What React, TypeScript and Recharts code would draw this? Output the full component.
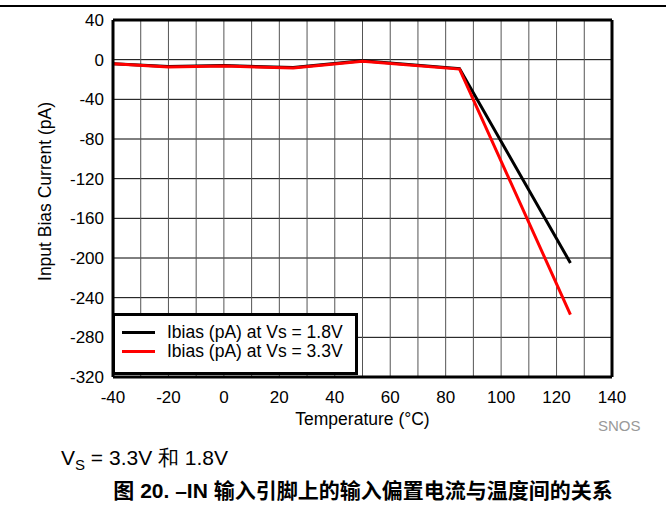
import {
  LineChart,
  Line,
  XAxis,
  YAxis,
  CartesianGrid,
  ReferenceLine,
  Legend,
  Label
} from "recharts";

const temps = [-40, -20, 0, 25, 50, 85, 125];
const ibias18 = [-4, -7, -6, -8, -1, -9, -205];
const ibias33 = [-4, -7.5, -6.5, -8.5, -1.5, -9.5, -257];

const xTicks = [-40, -20, 0, 20, 40, 60, 80, 100, 120, 140];
const yTicks = [40, 0, -40, -80, -120, -160, -200, -240, -280, -320];
const xGrid = [-30, -20, -10, 0, 10, 20, 30, 40, 50, 60, 70, 80, 90, 100, 110, 120, 130];

const FONT = '"Liberation Sans", Arial, sans-serif';

const data = temps.map((t, i) => ({ t, v18: ibias18[i], v33: ibias33[i] }));

const LegendBox = ({ payload }: any) => (
  <div
    style={{
      boxSizing: "border-box",
      width: 246,
      height: 62,
      border: "3px solid #000",
      background: "#fff",
      padding: "7px 0 0 7px",
      fontFamily: FONT,
      fontSize: 17.5,
      color: "#000"
    }}
  >
    {(payload || []).map((p: any) => (
      <div
        key={p.value}
        style={{ display: "flex", alignItems: "center", height: 19, lineHeight: "19px" }}
      >
        <span
          style={{
            display: "inline-block",
            width: 33,
            height: 3,
            background: p.color,
            marginRight: 12
          }}
        />
        <span style={{ whiteSpace: "nowrap" }}>{p.value}</span>
      </div>
    ))}
  </div>
);

export default function App() {
  return (
    <div
      style={{
        position: "absolute",
        left: 0,
        top: 0,
        width: 666,
        height: 516,
        background: "#fff",
        fontFamily: FONT
      }}
    >
      <div style={{ position: "absolute", left: 0, top: 5, width: 666, height: 1.5, background: "#000" }} />
      <LineChart
        width={666}
        height={516}
        data={data}
        margin={{ top: 20, right: 54, left: 53, bottom: 109 }}
      >
        <CartesianGrid vertical={false} stroke="#000" strokeWidth={1} />
        {xGrid.map((g) => (
          <ReferenceLine key={g} x={g} stroke="#555" strokeWidth={1} />
        ))}
        <ReferenceLine y={40} stroke="#000" strokeWidth={3} />
        <ReferenceLine x={140} stroke="#000" strokeWidth={3} />
        <XAxis
          dataKey="t"
          type="number"
          domain={[-40, 140]}
          ticks={xTicks}
          height={30}
          tickLine={false}
          tickSize={0}
          tickMargin={14}
          axisLine={{ stroke: "#000", strokeWidth: 3 }}
          tick={{ fill: "#000", fontSize: 17, fontFamily: FONT }}
          interval={0}
        >
          <Label
            content={({ viewBox }: any) => (
              <text
                x={viewBox.x + viewBox.width / 2}
                y={viewBox.y + 42}
                textAnchor="middle"
                dominantBaseline="central"
                fontSize={17.5}
                fontFamily={FONT}
                fill="#000"
              >
                Temperature (°C)
              </text>
            )}
          />
        </XAxis>
        <YAxis
          type="number"
          domain={[-320, 40]}
          ticks={yTicks}
          width={60}
          tickLine={false}
          tickSize={0}
          tickMargin={9}
          axisLine={{ stroke: "#000", strokeWidth: 3 }}
          tick={{ fill: "#000", fontSize: 17, fontFamily: FONT }}
          interval={0}
        >
          <Label
            content={({ viewBox }: any) => {
              const cx = viewBox.x - 8;
              const cy = viewBox.y + viewBox.height / 2 - 7;
              return (
                <text
                  x={cx}
                  y={cy}
                  transform={`rotate(-90 ${cx} ${cy})`}
                  textAnchor="middle"
                  dominantBaseline="central"
                  fontSize={17.5}
                  fontFamily={FONT}
                  fill="#000"
                >
                  Input Bias Current (pA)
                </text>
              );
            }}
          />
        </YAxis>
        <Line
          dataKey="v18"
          name="Ibias (pA) at Vs = 1.8V"
          stroke="#000"
          strokeWidth={3}
          dot={false}
          isAnimationActive={false}
        />
        <Line
          dataKey="v33"
          name="Ibias (pA) at Vs = 3.3V"
          stroke="#ff0000"
          strokeWidth={3}
          dot={false}
          isAnimationActive={false}
        />
        <Legend
          layout="vertical"
          align="center"
          verticalAlign="middle"
          wrapperStyle={{ left: 112, top: 313, width: 246, height: 62 }}
          content={LegendBox}
        />
      </LineChart>
      <div style={{ position: "absolute", left: 598, top: 417, fontSize: 15, color: "#999" }}>SNOS</div>
      <div style={{ position: "absolute", left: 61, top: 444, fontSize: 21, color: "#000", whiteSpace: "nowrap" }}>
        V<sub style={{ fontSize: 15, verticalAlign: -5 }}>S</sub> = 3.3V 和 1.8V
      </div>
      <div
        style={{
          position: "absolute",
          left: 0,
          width: 726,
          top: 474,
          textAlign: "center",
          fontSize: 21,
          fontWeight: "bold",
          color: "#000",
          whiteSpace: "nowrap",
          fontFamily: '"Liberation Sans", "Noto Sans CJK SC", sans-serif'
        }}
      >
        图 20. –IN 输入引脚上的输入偏置电流与温度间的关系
      </div>
    </div>
  );
}
